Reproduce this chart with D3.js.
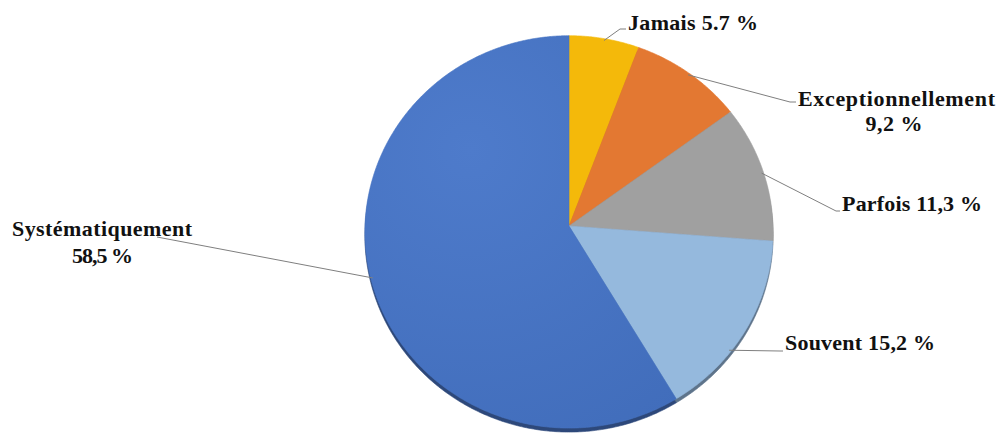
<!DOCTYPE html>
<html><head><meta charset="utf-8">
<script src="https://cdn.jsdelivr.net/npm/d3@7"></script>
<style>body{margin:0;background:#fff}svg{display:block}</style>
</head><body>
<script>
// ---- data ----
const categories = ["Jamais", "Exceptionnellement", "Parfois", "Souvent", "Systématiquement"];
const values = [5.7, 9.2, 11.3, 15.2, 58.5];
const labelLines = [["Jamais  5.7 %"], ["Exceptionnellement", "9,2 %"], ["Parfois  11,3 %"], ["Souvent 15,2 %"], ["Systématiquement", "58,5 %"]];
const colors = ["#F4B90A", "#E37832", "#A0A0A0", "#95B9DD", "#4773C2"];

// ---- layout ----
const W = 997, H = 434;
const cx = 569, cy = 226, A = 196, B = 204, e = -0.03, depth = 4;
const labelLayout = [
  {anchor: "start",  at: 0.5,  x: [628], y: [30],  w: [130], path: [[620, 29], [626, 29]]},
  {anchor: "middle", at: 0.5,  x: [896.5, 894], y: [106, 131], w: [197, 57], path: [[790, 102], [796, 102]]},
  {anchor: "start",  at: 0.5,  x: [842], y: [211], w: [140], path: [[836, 211], [840, 211]]},
  {anchor: "start",  at: 0.63, x: [785], y: [350], w: [150], path: [[780, 351], [783, 351]]},
  {anchor: "middle", at: 0.5,  x: [102, 102.5], y: [236, 263], w: [180, 61], path: [[157, 237]]}
];

const svg = d3.select("body").append("svg").attr("width", W).attr("height", H);

const defs = svg.append("defs");
const grad = defs.append("radialGradient").attr("id", "blueGrad")
  .attr("gradientUnits", "userSpaceOnUse").attr("cx", 470).attr("cy", 150).attr("r", 330);
grad.append("stop").attr("offset", "0%").attr("stop-color", "#4E7BCB");
grad.append("stop").attr("offset", "100%").attr("stop-color", "#416DBB");

function proj(a, rf) {
  const u = Math.sin(a) * rf, v = -Math.cos(a) * rf;
  const d = 1 + e * v;
  return [cx + B * u / d, cy + A * v / d];
}
function slicePts(a0, a1) {
  const n = Math.max(2, Math.ceil((a1 - a0) / (Math.PI / 360)));
  const pts = [[cx, cy]];
  for (let i = 0; i <= n; i++) pts.push(proj(a0 + (a1 - a0) * i / n, 1));
  return pts;
}
const pie = d3.pie().sort(null).value(d => d)(values);
const line = d3.line();
const fillOf = i => i === 4 ? "url(#blueGrad)" : colors[i];

// side (3D thickness)
svg.append("g").attr("transform", `translate(0,${depth})`)
  .selectAll("path").data(pie).join("path")
  .attr("d", d => line(slicePts(d.startAngle, d.endAngle)) + "Z")
  .attr("fill", (d, i) => d3.color(colors[i]).darker(1.3))
  .attr("stroke", (d, i) => d3.color(colors[i]).darker(1.3)).attr("stroke-width", 0.6);

// top faces
svg.append("g").selectAll("path").data(pie).join("path")
  .attr("d", d => line(slicePts(d.startAngle, d.endAngle)) + "Z")
  .attr("fill", (d, i) => fillOf(i))
  .attr("stroke", (d, i) => colors[i]).attr("stroke-width", 0.6);

// leader lines
svg.append("g").selectAll("path").data(pie).join("path")
  .attr("d", (d, i) => {
    const L = labelLayout[i];
    const m = d.startAngle + (d.endAngle - d.startAngle) * L.at;
    return line([proj(m, 0.99), ...L.path]);
  })
  .attr("fill", "none").attr("stroke", "#7f7f7f").attr("stroke-width", 1);

// labels
labelLines.forEach((ls, i) => {
  const L = labelLayout[i];
  ls.forEach((t, j) => {
    svg.append("text")
      .attr("x", L.x[j]).attr("y", L.y[j])
      .attr("text-anchor", L.anchor)
      .attr("font-family", "'Liberation Serif', serif")
      .attr("font-weight", "bold").attr("font-size", 22)
      .attr("fill", "#111")
      .attr("textLength", L.w[j]).attr("lengthAdjust", "spacing")
      .text(t);
  });
});
</script>
</body></html>
